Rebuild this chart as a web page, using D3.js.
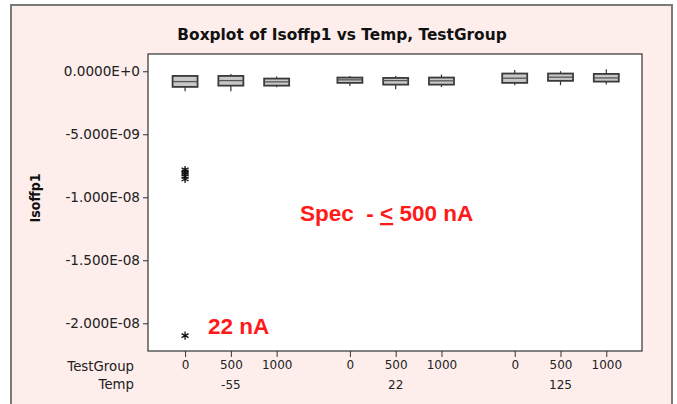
<!DOCTYPE html>
<html><head><meta charset="utf-8">
<script src="https://cdn.jsdelivr.net/npm/d3@7"></script>
<style>body{margin:0;background:#fff}svg{display:block}</style>
</head><body>
<script>
// ---- data (values in units of 1e-9) ----
const temps = ["-55", "22", "125"];
const testGroups = ["0", "500", "1000"];
const whiskerHigh = [-0.37, -0.21, -0.42, -0.37, -0.37, -0.26, 0.11, 0.01, 0.16];
const q3 = [-0.37, -0.37, -0.58, -0.50, -0.53, -0.50, -0.18, -0.18, -0.21];
const median = [-0.82, -0.74, -0.84, -0.68, -0.74, -0.76, -0.55, -0.47, -0.53];
const q1 = [-1.24, -1.14, -1.14, -0.92, -1.06, -1.06, -0.92, -0.76, -0.82];
const whiskerLow = [-1.58, -1.58, -1.26, -1.16, -1.42, -1.26, -1.11, -1.11, -1.06];
const outlierBox = [0, 0, 0, 0, 0, 0];
const outlierValues = [-7.83, -8.0, -8.15, -8.35, -8.55, -20.98];
const yTickValues = [0, -5, -10, -15, -20];
const yTickLabels = ["0.0000E+0", "-5.000E-09", "-1.000E-08", "-1.500E-08", "-2.000E-08"];

const W = 677, H = 404;
const svg = d3.select("body").append("svg").attr("width", W).attr("height", H);
const font = "'DejaVu Sans', sans-serif";
const condensed = "'DejaVu Sans Condensed', 'DejaVu Sans', sans-serif";

// outer frame
svg.append("rect").attr("x", 11).attr("y", 5).attr("width", 661).attr("height", 420)
  .attr("fill", "#fdeeec").attr("stroke", "#7a7a7a").attr("stroke-width", 2);

const plot = {l: 148, r: 642, t: 54, b: 351};
svg.append("rect").attr("x", plot.l).attr("y", plot.t).attr("width", plot.r - plot.l)
  .attr("height", plot.b - plot.t).attr("fill", "#fff").attr("stroke", "#333").attr("stroke-width", 1.2);

const groupOffset = 3.6;
const x = d3.scaleLinear().domain([-0.81, 9.98]).range([plot.l, plot.r]);
const y = d3.scaleLinear().domain([1.37, -22.2]).range([plot.t, plot.b]);

const boxes = [];
temps.forEach((t, j) => testGroups.forEach((g, i) => {
  const k = j * 3 + i;
  boxes.push({pos: j * groupOffset + i, temp: t, group: g, wh: whiskerHigh[k], q3: q3[k], med: median[k], q1: q1[k], wl: whiskerLow[k]});
}));

// title
svg.append("text").attr("x", 342).attr("y", 40).attr("text-anchor", "middle")
  .attr("font-family", font).attr("font-weight", "bold")
  .attr("font-size", 15.4).attr("fill", "#111").text("Boxplot of Isoffp1 vs Temp, TestGroup");

// y axis
const yAxis = d3.axisLeft(y).tickValues(yTickValues).tickSize(5).tickPadding(3)
  .tickFormat((d, i) => yTickLabels[i]);
const ya = svg.append("g").attr("transform", `translate(${plot.l},0)`).call(yAxis);
ya.select(".domain").remove();
ya.selectAll("line").attr("stroke", "#333");
ya.selectAll("text").attr("font-family", font).attr("font-size", 13.6).attr("fill", "#222");

svg.append("text").attr("transform", "translate(40,198) rotate(-90)").attr("text-anchor", "middle")
  .attr("font-family", condensed).attr("font-weight", "bold")
  .attr("font-size", 14).attr("fill", "#111").text("Isoffp1");

// x axis
const xAxis = d3.axisBottom(x).tickValues(boxes.map(b => b.pos)).tickSize(6).tickPadding(3)
  .tickFormat((d, i) => boxes[i].group);
const xa = svg.append("g").attr("transform", `translate(0,${plot.b})`).call(xAxis);
xa.select(".domain").remove();
xa.selectAll("line").attr("stroke", "#333");
xa.selectAll("text").attr("font-family", font).attr("font-size", 12).attr("fill", "#222");

svg.append("text").attr("x", 134).attr("y", 371).attr("text-anchor", "end")
  .attr("font-family", font).attr("font-size", 13.3).attr("fill", "#222").text("TestGroup");
svg.append("text").attr("x", 134).attr("y", 389).attr("text-anchor", "end")
  .attr("font-family", font).attr("font-size", 13.3).attr("fill", "#222").text("Temp");
svg.selectAll(".templab").data(temps).join("text").attr("class", "templab")
  .attr("x", (d, j) => x(j * groupOffset + 1)).attr("y", 389).attr("text-anchor", "middle")
  .attr("font-family", font).attr("font-size", 12).attr("fill", "#222").text(d => d);

// boxes
const bw = 25;
const bg = svg.append("g");
boxes.forEach(b => {
  const cx = x(b.pos);
  bg.append("line").attr("x1", cx).attr("x2", cx).attr("y1", y(b.wh)).attr("y2", y(b.q3))
    .attr("stroke", "#333").attr("stroke-width", 1.2);
  bg.append("line").attr("x1", cx).attr("x2", cx).attr("y1", y(b.q1)).attr("y2", y(b.wl))
    .attr("stroke", "#333").attr("stroke-width", 1.2);
  bg.append("rect").attr("x", cx - bw / 2).attr("y", y(b.q3)).attr("width", bw)
    .attr("height", y(b.q1) - y(b.q3)).attr("fill", "#c8c8c8").attr("stroke", "#3a3a3a").attr("stroke-width", 1.8);
  bg.append("line").attr("x1", cx - bw / 2).attr("x2", cx + bw / 2).attr("y1", y(b.med)).attr("y2", y(b.med))
    .attr("stroke", "#555").attr("stroke-width", 1.3);
});

// outliers
const star = d3.symbol().type(d3.symbolAsterisk || d3.symbolCross).size(45);
svg.selectAll(".out").data(outlierValues).join("path").attr("class", "out")
  .attr("transform", (d, i) => `translate(${x(boxes[outlierBox[i]].pos)},${y(d)})`)
  .attr("d", star).attr("fill", "none").attr("stroke", "#111").attr("stroke-width", 1.3);

// annotations
const spec = svg.append("text").attr("x", 300).attr("y", 221)
  .attr("font-family", "'Liberation Sans', Arial, sans-serif").attr("font-weight", "bold")
  .attr("font-size", 22.5).attr("fill", "#ff1a1a").style("white-space", "pre");
spec.append("tspan").text("Spec  - ");
spec.append("tspan").attr("text-decoration", "underline").text("<");
spec.append("tspan").text(" 500 nA");

svg.append("text").attr("x", 208).attr("y", 334)
  .attr("font-family", "'Liberation Sans', Arial, sans-serif").attr("font-weight", "bold")
  .attr("font-size", 22.5).attr("fill", "#ff1a1a").text("22 nA");
</script>
</body></html>
